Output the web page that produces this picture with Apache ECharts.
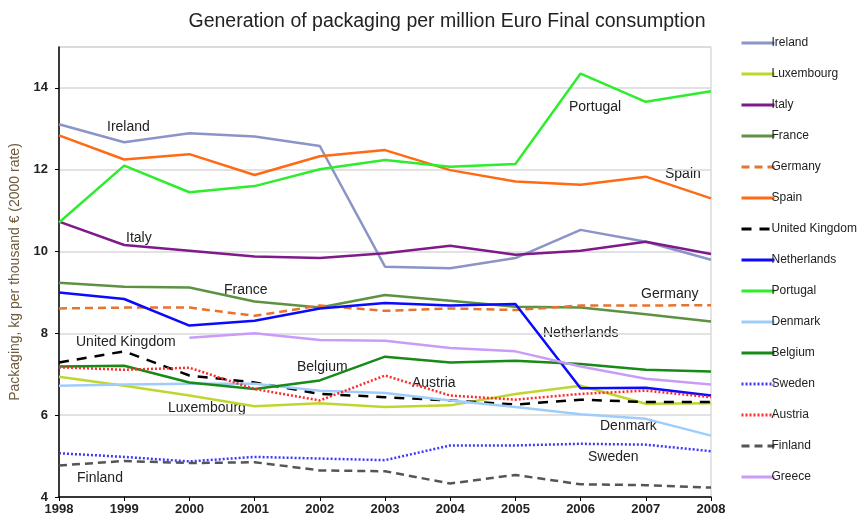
<!DOCTYPE html>
<html>
<head>
<meta charset="utf-8">
<script src="https://cdn.jsdelivr.net/npm/echarts@6/dist/echarts.min.js"></script>
<style>
  html, body { margin: 0; padding: 0; background: #fff; }
  #chart { width: 867px; height: 521px; }
</style>
</head>
<body>
<div id="chart"></div>
<script>
const years = ['1998', '1999', '2000', '2001', '2002', '2003', '2004', '2005', '2006', '2007', '2008']

const ireland = [13.11, 12.67, 12.89, 12.81, 12.58, 9.63, 9.59, 9.84, 10.53, 10.24, 9.80]
const luxembourg = [6.94, 6.72, 6.48, 6.22, 6.29, 6.20, 6.24, 6.52, 6.72, 6.28, 6.29]
const italy = [10.73, 10.16, 10.02, 9.88, 9.84, 9.96, 10.14, 9.92, 10.02, 10.24, 9.94]
const france = [9.24, 9.14, 9.12, 8.78, 8.63, 8.94, 8.80, 8.65, 8.63, 8.47, 8.29]
const germany = [8.61, 8.63, 8.63, 8.43, 8.68, 8.55, 8.61, 8.57, 8.68, 8.68, 8.69]
const spain = [12.84, 12.25, 12.38, 11.87, 12.33, 12.48, 11.99, 11.71, 11.63, 11.83, 11.30]
const unitedKingdom = [7.29, 7.56, 6.97, 6.80, 6.52, 6.44, 6.36, 6.26, 6.38, 6.32, 6.32]
const netherlands = [9.00, 8.84, 8.19, 8.31, 8.61, 8.74, 8.68, 8.72, 6.66, 6.67, 6.48]
const portugal = [10.71, 12.10, 11.45, 11.60, 12.01, 12.24, 12.07, 12.14, 14.35, 13.66, 13.92]
const denmark = [6.72, 6.75, 6.77, 6.77, 6.60, 6.54, 6.36, 6.20, 6.02, 5.91, 5.50]
const belgium = [7.19, 7.21, 6.80, 6.64, 6.85, 7.43, 7.29, 7.33, 7.25, 7.11, 7.07]
const sweden = [5.07, 4.98, 4.87, 4.98, 4.94, 4.90, 5.26, 5.26, 5.30, 5.28, 5.12]
const austria = [7.17, 7.11, 7.16, 6.64, 6.36, 6.97, 6.48, 6.38, 6.52, 6.60, 6.44]
const finland = [4.77, 4.88, 4.83, 4.85, 4.65, 4.63, 4.33, 4.54, 4.31, 4.29, 4.23]
const greece = [null, null, 7.89, 8.00, 7.84, 7.82, 7.64, 7.56, 7.19, 6.89, 6.75]

const yTicks = { min: 4, max: 15, step: 2 }

// country, values, colour, line type, width
const countries = [
  ['Ireland', ireland, '#8a94c6', 'solid', 2.5],
  ['Luxembourg', luxembourg, '#c0d630', 'solid', 2.5],
  ['Italy', italy, '#7f1a8a', 'solid', 2.5],
  ['France', france, '#5c9242', 'solid', 2.5],
  ['Germany', germany, '#e8732c', [8, 5], 2.5],
  ['Spain', spain, '#ff6a14', 'solid', 2.5],
  ['United Kingdom', unitedKingdom, '#000000', [10, 8], 2.5],
  ['Netherlands', netherlands, '#0a0aff', 'solid', 2.5],
  ['Portugal', portugal, '#2ded2d', 'solid', 2.5],
  ['Denmark', denmark, '#9fcdfb', 'solid', 2.5],
  ['Belgium', belgium, '#178a17', 'solid', 2.5],
  ['Sweden', sweden, '#3a3aff', [2, 2], 2.5],
  ['Austria', austria, '#ff2a2a', [2, 2], 2.5],
  ['Finland', finland, '#555555', [8, 5], 2.5],
  ['Greece', greece, '#c99cf8', 'solid', 2.5],
]

// on-chart name labels (pixel position of text box)
const nameLabels = [
  ['Ireland', 107, 120], ['Italy', 126, 231], ['France', 224, 283],
  ['United Kingdom', 76, 335], ['Belgium', 297, 360], ['Luxembourg', 168, 401],
  ['Finland', 77, 471], ['Portugal', 569, 100], ['Spain', 665, 167],
  ['Germany', 641, 287], ['Netherlands', 543, 326], ['Austria', 412, 376],
  ['Denmark', 600, 419], ['Sweden', 588, 450],
]

const chart = echarts.init(document.getElementById('chart'), null, { renderer: 'canvas' })

const series = countries.map(function (c) {
  return {
    name: c[0],
    type: 'line',
    data: c[1],
    symbol: 'none',
    connectNulls: false,
    lineStyle: { color: c[2], type: c[3], width: c[4] },
    itemStyle: { color: c[2] },
    emphasis: { disabled: true },
  }
})

const option = {
  animation: false,
  title: {
    text: 'Generation of packaging per million Euro Final consumption',
    left: 442,
    textAlign: 'center',
    top: 7,
    textStyle: {
      fontFamily: 'Liberation Sans',
      fontSize: 19.5,
      fontWeight: 'normal',
      color: '#222',
    },
  },
  grid: {
    left: 59,
    right: 156,
    top: 47,
    bottom: 24,
    show: true,
    borderColor: '#c8c8c8',
    borderWidth: 1,
    containLabel: false,
  },
  legend: {
    orient: 'vertical',
    left: 735,
    top: 32,
    itemWidth: 33,
    itemHeight: 14,
    itemGap: 19,
    itemStyle: { opacity: 0 },
    lineStyle: { width: 3 },
    textStyle: {
      fontFamily: 'Liberation Sans',
      fontSize: 12,
      color: '#222',
      padding: [0, 0, 0, -8],
    },
    data: countries.map(function (c) { return c[0] }),
  },
  xAxis: {
    type: 'category',
    data: years,
    boundaryGap: false,
    axisLine: { lineStyle: { color: '#000', width: 1.5 } },
    axisTick: { show: true, length: 4, lineStyle: { color: '#000' } },
    axisLabel: {
      fontFamily: 'Liberation Sans',
      fontWeight: 'bold',
      fontSize: 13,
      color: '#222',
      margin: 6,
    },
    splitLine: { show: false },
  },
  yAxis: {
    type: 'value',
    min: yTicks.min,
    max: yTicks.max,
    interval: yTicks.step,
    name: 'Packaging, kg per thousand € (2000 rate)',
    nameLocation: 'middle',
    nameGap: 34,
    nameTextStyle: {
      fontFamily: 'Liberation Sans',
      fontSize: 14,
      color: '#6e5a3c',
    },
    axisLine: { show: true, lineStyle: { color: '#000', width: 1.5 } },
    axisTick: { show: true, length: 4, lineStyle: { color: '#000' } },
    axisLabel: {
      fontFamily: 'Liberation Sans',
      fontWeight: 'bold',
      fontSize: 13,
      color: '#222',
      margin: 11,
      showMaxLabel: false,
    },
    splitLine: { show: true, lineStyle: { color: '#d8d8d8', width: 1.5 } },
  },
  graphic: nameLabels.map(function (l) {
    return {
      type: 'text',
      left: l[1],
      top: l[2],
      silent: true,
      style: {
        text: l[0],
        fill: '#222',
        font: '14px "Liberation Sans"',
      },
    }
  }),
  series: series,
}

chart.setOption(option)
</script>
</body>
</html>
